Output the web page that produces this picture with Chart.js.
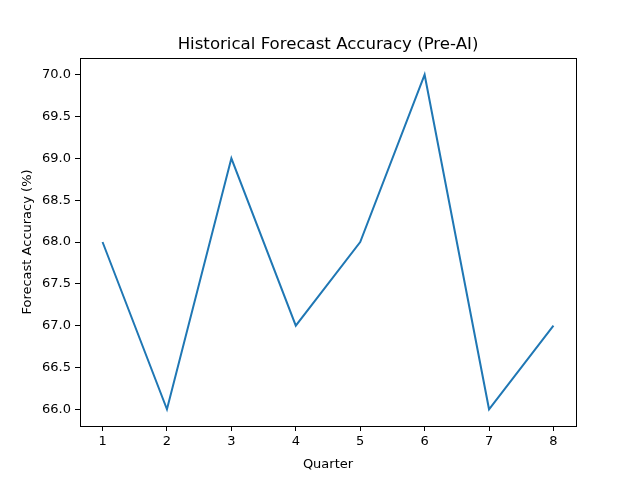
<!DOCTYPE html>
<html>
<head>
<meta charset="utf-8">
<script src="https://cdn.jsdelivr.net/npm/chart.js@4"></script>
<style>
  html, body { margin: 0; padding: 0; background: #fff; }
  #wrap { width: 640px; height: 480px; }
</style>
</head>
<body>
<div id="wrap"><canvas id="accuracyChart" width="640" height="480"></canvas></div>
<script>
const quarters = [1, 2, 3, 4, 5, 6, 7, 8];
const accuracy = [68, 66, 69, 67, 68, 70, 66, 67];
const xTicks = [1, 2, 3, 4, 5, 6, 7, 8];
const yTicks = [66.0, 66.5, 67.0, 67.5, 68.0, 68.5, 69.0, 69.5, 70.0];

const font = "'DejaVu Sans', sans-serif";

// box around the plot + title text, like matplotlib
const frameAndTitle = {
    id: 'frameAndTitle',
    afterDraw(chart) {
        const { ctx, chartArea: a } = chart;
        ctx.save();
        ctx.strokeStyle = '#000';
        ctx.lineWidth = 1;
        ctx.strokeRect(Math.round(a.left) + 0.5, Math.round(a.top) + 0.5,
            Math.round(a.right - a.left), Math.round(a.bottom - a.top));
        ctx.fillStyle = '#000';
        ctx.font = '16.6px ' + font;
        ctx.textAlign = 'center';
        ctx.textBaseline = 'alphabetic';
        ctx.fillText('Historical Forecast Accuracy (Pre-AI)', (a.left + a.right) / 2, a.top - 9);
        ctx.restore();
    }
};

new Chart(document.getElementById('accuracyChart').getContext('2d'), {
    type: 'line',
    data: {
        datasets: [{
            data: quarters.map((q, i) => ({ x: q, y: accuracy[i] })),
            borderColor: '#1f77b4',
            borderWidth: 2,
            pointRadius: 0,
            tension: 0,
            fill: false
        }]
    },
    options: {
        responsive: false,
        animation: false,
        layout: { padding: { top: 58, right: 64, bottom: 0, left: 0 } },
        plugins: { legend: { display: false }, tooltip: { enabled: false } },
        scales: {
            x: {
                type: 'linear',
                min: 0.65,
                max: 8.35,
                afterBuildTicks: s => { s.ticks = xTicks.map(v => ({ value: v })); },
                afterFit: s => { s.height = 54; },
                grid: { display: true, drawOnChartArea: false, tickLength: 5, color: '#000' },
                border: { display: false },
                ticks: { color: '#000', font: { family: font, size: 13 }, padding: 3, maxRotation: 0 },
                title: { display: true, text: 'Quarter', color: '#000', font: { family: font, size: 13 }, padding: { top: 2, bottom: 8 } }
            },
            y: {
                min: 65.8,
                max: 70.2,
                afterBuildTicks: s => { s.ticks = yTicks.map(v => ({ value: v })); },
                afterFit: s => { s.width = 80; },
                grid: { display: true, drawOnChartArea: false, tickLength: 5, color: '#000' },
                border: { display: false },
                ticks: { color: '#000', font: { family: font, size: 13 }, padding: 4, callback: v => v.toFixed(1) },
                title: { display: true, text: 'Forecast Accuracy (%)', color: '#000', font: { family: font, size: 13 }, padding: { top: 20, bottom: 0 } }
            }
        }
    },
    plugins: [frameAndTitle]
});
</script>
</body>
</html>
